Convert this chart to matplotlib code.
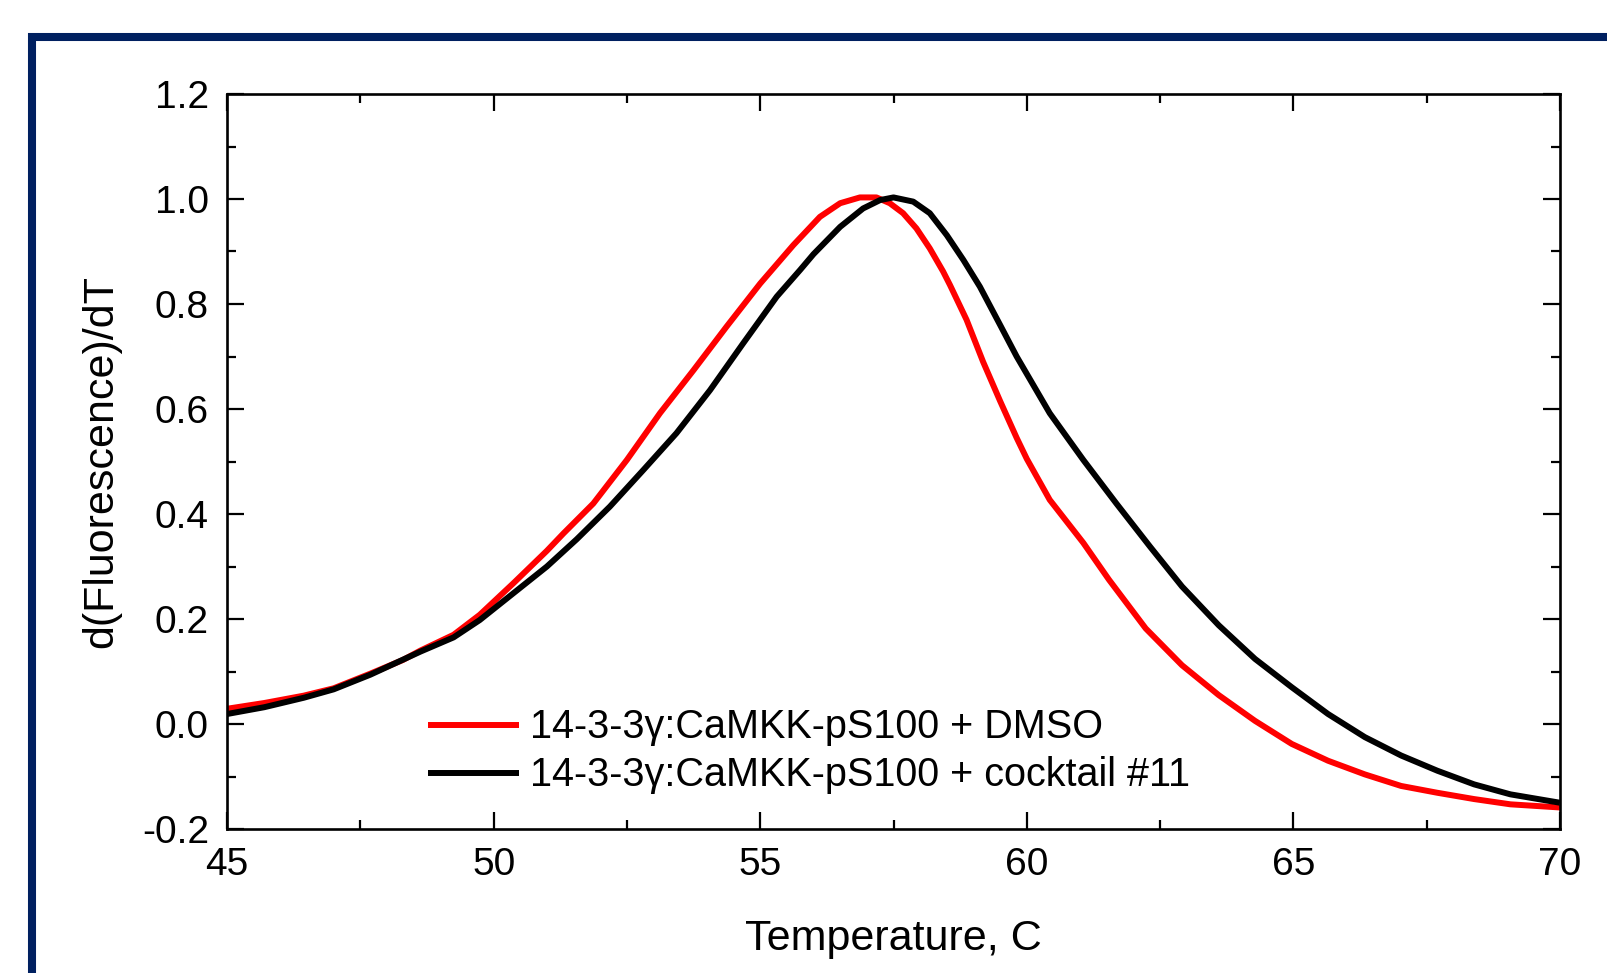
import matplotlib
matplotlib.use("Agg")
import matplotlib.pyplot as plt
from matplotlib.patches import Rectangle
from matplotlib.ticker import MultipleLocator, FormatStrFormatter

plt.rcParams['font.family'] = ['Liberation Sans', 'DejaVu Sans']
plt.rcParams['axes.unicode_minus'] = False

# ---- data ----
temp_dmso = [45.0, 45.7, 46.44, 47.0, 47.69, 48.3, 48.63, 49.25, 49.74, 50.37,
             51.0, 51.31, 51.87, 52.5, 53.12, 53.75, 54.37, 55.0, 55.62,
             56.12, 56.5, 56.87, 57.18, 57.43, 57.68, 57.93, 58.18, 58.43, 58.56,
             58.87, 59.18, 59.5, 59.81, 60.0, 60.43, 61.06, 61.54, 62.23, 62.91,
             63.6, 64.28, 64.97, 65.65, 66.34, 67.02, 67.7, 68.39, 69.07, 70.0]
dfdt_dmso = [0.029, 0.040, 0.054, 0.068, 0.096, 0.122, 0.140, 0.170, 0.208, 0.268,
             0.330, 0.363, 0.420, 0.503, 0.592, 0.674, 0.757, 0.839, 0.912,
             0.966, 0.992, 1.003, 1.003, 0.992, 0.973, 0.944, 0.906, 0.862, 0.836,
             0.770, 0.690, 0.615, 0.545, 0.505, 0.427, 0.345, 0.275, 0.182, 0.112,
             0.055, 0.006, -0.038, -0.070, -0.096, -0.118, -0.131, -0.143, -0.153, -0.159]

temp_cocktail = [45.0, 45.7, 46.44, 47.0, 47.69, 48.63, 49.25, 49.74, 50.37, 51.0,
                 51.56, 52.18, 52.81, 53.43, 54.06, 54.68, 55.31, 55.75, 56.0, 56.5,
                 56.93, 57.25, 57.5, 57.87, 58.18, 58.5, 58.81, 59.12, 59.5, 59.81,
                 60.43, 61.06, 61.68, 62.31, 62.91, 63.6, 64.28, 64.97, 65.65, 66.34,
                 67.02, 67.7, 68.39, 69.07, 70.0]
dfdt_cocktail = [0.019, 0.032, 0.050, 0.066, 0.094, 0.138, 0.165, 0.198, 0.249, 0.300,
                 0.352, 0.414, 0.484, 0.554, 0.636, 0.725, 0.814, 0.865, 0.895, 0.947,
                 0.982, 0.998, 1.003, 0.995, 0.973, 0.931, 0.884, 0.833, 0.760, 0.700,
                 0.592, 0.503, 0.420, 0.338, 0.262, 0.188, 0.124, 0.070, 0.019, -0.025,
                 -0.060, -0.089, -0.115, -0.134, -0.150]

labels = ["14-3-3γ:CaMKK-pS100 + DMSO", "14-3-3γ:CaMKK-pS100 + cocktail #11"]
colors = ["#ff0000", "#000000"]
x_label = "Temperature, C"
y_label = "d(Fluorescence)/dT"

W, H = 1607, 973
fig = plt.figure(figsize=(W / 100, H / 100), dpi=100)
fig.patch.set_facecolor("white")

# slide frame
fig.add_artist(Rectangle((32 / W, -0.2), 1.5, 1.2 - 37 / H, transform=fig.transFigure,
                         fill=False, lw=5.8, ec="#002060", joinstyle="miter", clip_on=False))

ax = fig.add_axes([227 / W, 1 - 829 / H, 1333 / W, 735 / H])

ax.plot(temp_dmso, dfdt_dmso, color=colors[0], lw=4.3, label=labels[0],
        solid_joinstyle="round", solid_capstyle="butt")
ax.plot(temp_cocktail, dfdt_cocktail, color=colors[1], lw=4.3, label=labels[1],
        solid_joinstyle="round", solid_capstyle="butt")

ax.set_xlim(45, 70)
ax.set_ylim(-0.2, 1.2)
ax.xaxis.set_major_locator(MultipleLocator(5))
ax.xaxis.set_minor_locator(MultipleLocator(2.5))
ax.yaxis.set_major_locator(MultipleLocator(0.2))
ax.yaxis.set_minor_locator(MultipleLocator(0.1))
ax.yaxis.set_major_formatter(FormatStrFormatter("%.1f"))

ax.tick_params(which="both", direction="in", top=True, right=True, width=1.6, colors="black")
ax.tick_params(which="major", length=12.2, labelsize=28)
ax.tick_params(axis="x", which="major", pad=13)
ax.tick_params(axis="y", which="major", pad=13)
ax.tick_params(which="minor", length=6.8)
for s in ax.spines.values():
    s.set_linewidth(1.9)

ax.set_xlabel(x_label, fontsize=31, labelpad=26)
ax.set_ylabel(y_label, fontsize=31, labelpad=15)

ax.legend(loc="upper left", bbox_to_anchor=(0.1508, 0.164), frameon=False,
          fontsize=28.5, handlelength=2.3, handletextpad=0.28, labelspacing=0.25,
          borderaxespad=0, borderpad=0)

fig.savefig("out.png", dpi=100)
